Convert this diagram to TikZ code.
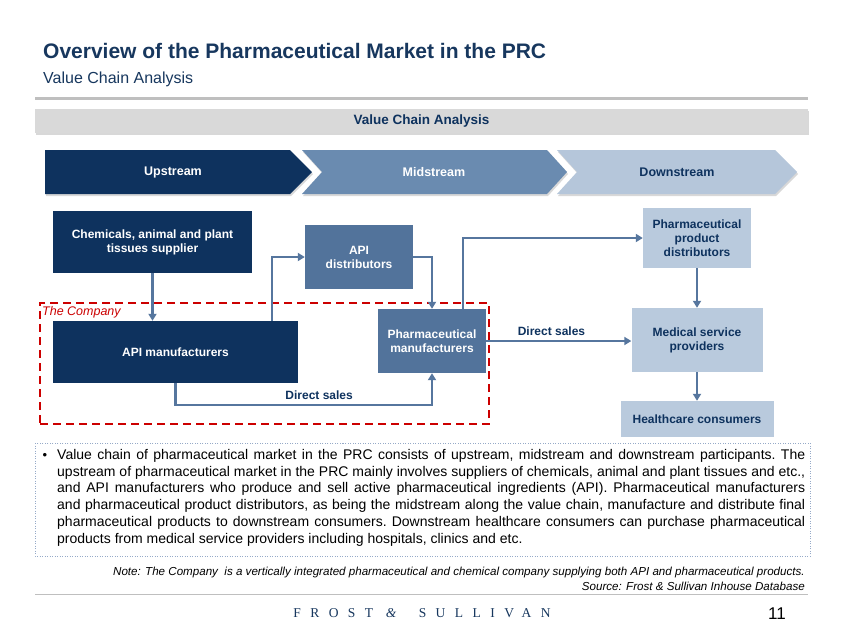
\documentclass[tikz,border=0pt]{standalone}
\usepackage{fontspec}
\setmainfont{Liberation Sans}
\newfontfamily\brandfont[LetterSpace=70]{Liberation Serif}
\usepackage{tikz}
\definecolor{navy}{RGB}{14,50,94}
\definecolor{titleblue}{RGB}{23,55,94}
\definecolor{midblue}{RGB}{82,115,155}
\definecolor{midchev}{RGB}{106,139,176}
\definecolor{paleblue}{RGB}{185,202,221}
\definecolor{palechev}{RGB}{181,198,218}
\definecolor{flowblue}{RGB}{86,118,158}
\definecolor{companyred}{RGB}{204,0,0}
\definecolor{rulegray}{RGB}{191,191,191}
\definecolor{bannergray}{RGB}{217,217,217}
\definecolor{dotgray}{RGB}{150,170,200}
\usetikzlibrary{arrows.meta,shadows}

\tikzset{
  chainbox/.style={rectangle, inner sep=0pt, align=center,
    font=\bfseries\fontsize{12}{14}\selectfont},
  darkbox/.style={chainbox, fill=navy, text=white},
  midbox/.style={chainbox, fill=midblue, text=white},
  palebox/.style={chainbox, fill=paleblue, text=navy},
  flow/.style={draw=flowblue, line width=2.5pt,
    -{Triangle[length=7pt,width=8pt]}},
  saleslabel/.style={text=navy, font=\bfseries\fontsize{12}{14}\selectfont},
  chevshadow/.style={drop shadow={shadow xshift=1pt, shadow yshift=-2pt, opacity=0.3}}
}

\begin{document}
\begin{tikzpicture}[x=1pt, y=-1pt]
\useasboundingbox[fill=white] (0,0) rectangle (843,635);

% heading
\node[anchor=base west, inner sep=0pt, text=titleblue] (title) at (43,58)
  {\bfseries\fontsize{21}{25}\selectfont Overview of the Pharmaceutical Market in the PRC};
\node[anchor=base west, inner sep=0pt, text=titleblue] (subtitle) at (43,83)
  {\fontsize{16}{19}\selectfont Value Chain Analysis};
\draw[rulegray, line width=3pt] (35,98) -- (808,98);
\node[fill=bannergray, chevshadow, minimum width=773pt, minimum height=24pt, inner sep=0pt,
  text=navy, font=\bfseries\fontsize{13.5}{16}\selectfont] (banner) at (421.5,121) {Value Chain Analysis};

% stream chevrons
\fill[navy, chevshadow] (45,150) -- (290,150) -- (312,172) -- (290,194) -- (45,194) -- cycle;
\fill[midchev, chevshadow] (302,150) -- (547,150) -- (567,172) -- (547,194) -- (302,194) -- (322,172) -- cycle;
\fill[palechev, chevshadow] (557,150) -- (775,150) -- (797,172) -- (775,194) -- (557,194) -- (577,172) -- cycle;
\node[text=white, font=\bfseries\fontsize{12.5}{15}\selectfont] (up) at (173,172) {Upstream};
\node[text=white, font=\bfseries\fontsize{12.5}{15}\selectfont] (mid) at (434,172) {Midstream};
\node[text=navy, font=\bfseries\fontsize{12.5}{15}\selectfont] (down) at (677,172) {Downstream};

% the company
\node[draw=companyred, dash pattern=on 8pt off 5pt, line width=2pt,
  minimum width=449pt, minimum height=121pt] (company) at (264.5,363.5) {};
\node[anchor=north west, inner sep=0pt, text=companyred,
  font=\itshape\fontsize{12.5}{15}\selectfont] (companylbl) at ([xshift=3pt,yshift=-4pt]company.north west) {The Company};

% participants
\node[darkbox, minimum width=199pt, minimum height=62pt] (chem) at (152.5,242)
  {Chemicals, animal and plant\\tissues supplier};
\node[midbox, minimum width=108pt, minimum height=64pt] (apidist) at (359,257)
  {API\\distributors};
\node[darkbox, minimum width=245pt, minimum height=62pt] (apiman) at (175.5,352)
  {API manufacturers};
\node[midbox, minimum width=108pt, minimum height=64pt] (pharmman) at (432,341)
  {Pharmaceutical\\manufacturers};
\node[palebox, minimum width=108pt, minimum height=60pt] (ppd) at (697,238)
  {Pharmaceutical\\product\\distributors};
\node[palebox, minimum width=131pt, minimum height=64pt] (med) at (697,340)
  {Medical service\\providers};
\node[palebox, minimum width=153pt, minimum height=36pt] (hc) at (697,419)
  {Healthcare consumers};

% flows
\draw[flow] (chem.south) -- (chem.south |- apiman.north);
\draw[flow] ([xshift=-26pt]apiman.north east) |- (apidist.west);
\draw[flow] (apidist.east) -| (pharmman.north);
\draw[flow] (apiman.south) -- ++(0,22) -| node[pos=0.28, above=1pt, saleslabel] (sales1) {Direct sales} (pharmman.south);
\draw[flow] ([xshift=-23pt]pharmman.north east) |- (ppd.west);
\draw[flow] (pharmman.east) -- node[pos=0.45, above=1pt, saleslabel] (sales2) {Direct sales} (pharmman.east -| med.west);
\draw[flow] (ppd.south) -- (med.north);
\draw[flow] (med.south) -- (med.south |- hc.north);

% summary
\draw[dotgray, line width=1pt, dash pattern=on 1pt off 1.5pt] (35,443) rectangle (810,556);
\node[anchor=base, inner sep=0pt] (bullet) at (45,459) {\fontsize{13}{17}\selectfont •};
\node[anchor=north west, inner sep=0pt, text width=748pt, align=justify] (summary) at (57,449)
  {\frenchspacing\fontsize{14}{16.8}\selectfont
  Value chain of pharmaceutical market in the PRC consists of upstream, midstream and downstream participants. The\linebreak
  upstream of pharmaceutical market in the PRC mainly involves suppliers of chemicals, animal and plant tissues and etc.,\linebreak
  and API manufacturers who produce and sell active pharmaceutical ingredients (API). Pharmaceutical manufacturers\linebreak
  and pharmaceutical product distributors, as being the midstream along the value chain, manufacture and distribute final\linebreak
  pharmaceutical products to downstream consumers. Downstream healthcare consumers can purchase pharmaceutical\linebreak
  products from medical service providers including hospitals, clinics and etc.\par};

% footer
\node[anchor=base east, inner sep=0pt] (note) at (805,575)
  {\itshape\fontsize{11.6}{14}\selectfont Note: The Company\ \ is a vertically integrated pharmaceutical and chemical company supplying both API and pharmaceutical products.};
\node[anchor=base east, inner sep=0pt] (source) at (805,590)
  {\itshape\fontsize{11.6}{14}\selectfont Source: Frost \& Sullivan Inhouse Database};
\draw[rulegray, line width=1pt] (35,594) -- (808,594);
\node[text=titleblue, inner sep=0pt] (brand) at (422,613)
  {\brandfont\fontsize{13.5}{16}\selectfont FROST \textit{\&} SULLIVAN};
\node[inner sep=0pt] (page) at (777,614) {\fontsize{17}{20}\selectfont 11};
\end{tikzpicture}
\end{document}
